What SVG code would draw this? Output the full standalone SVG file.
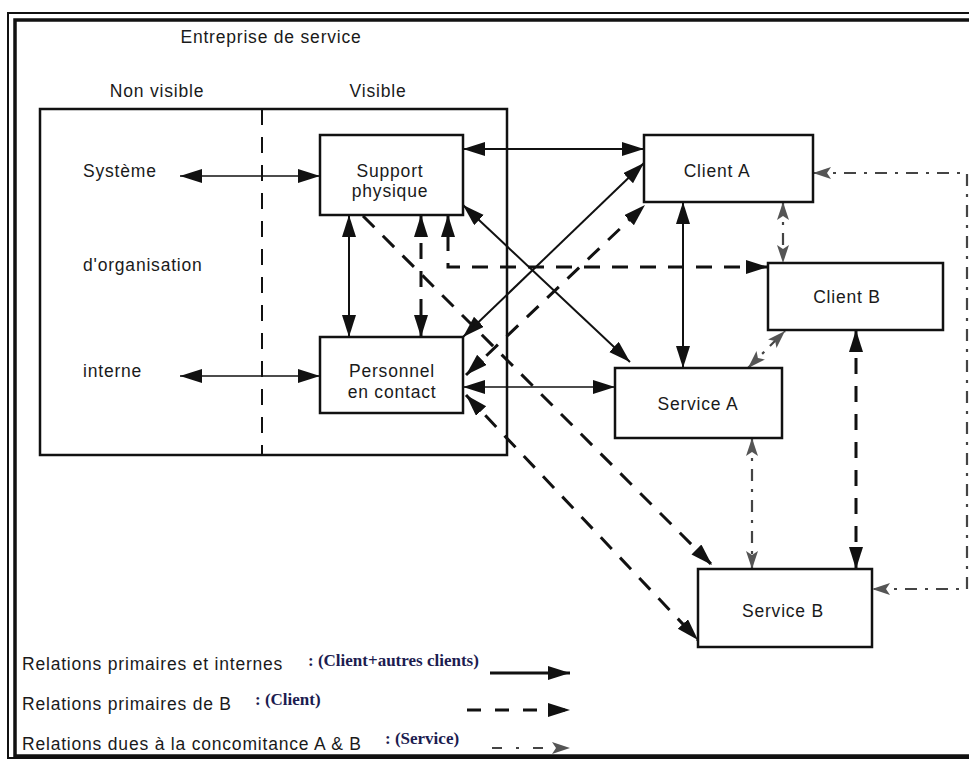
<svg xmlns="http://www.w3.org/2000/svg" width="969" height="760" viewBox="0 0 969 760">
<style>
text{font-family:"Liberation Sans",Arial,sans-serif;font-size:17.5px;letter-spacing:0.8px;fill:#1a1a1a}
.c{text-anchor:middle}
.ser{font-family:"Liberation Serif","Times New Roman",serif;font-weight:bold;font-size:17px;letter-spacing:0;fill:#1c1c50}
.box{fill:#fff;stroke:#111;stroke-width:2.5}
.sol{fill:none;stroke:#111;stroke-width:2;marker-start:url(#ah);marker-end:url(#ah)}
.thin{stroke-width:1.5}
.dsh{fill:none;stroke:#111;stroke-width:3;stroke-dasharray:16 12;marker-start:url(#ah);marker-end:url(#ah)}
.dd{fill:none;stroke:#444;stroke-width:2.2;stroke-dasharray:12 8 3 8;marker-start:url(#ag);marker-end:url(#ag)}
</style>
<defs>
<marker id="ah" markerUnits="userSpaceOnUse" markerWidth="24" markerHeight="16" refX="22" refY="7" orient="auto-start-reverse"><path d="M0,0 L22,7 L0,14 z" fill="#111"/></marker>
<marker id="ag" markerUnits="userSpaceOnUse" markerWidth="20" markerHeight="14" refX="18" refY="6" orient="auto-start-reverse"><path d="M0,0 L18,6 L0,12 L4,6 z" fill="#555"/></marker>
</defs>

<g id="frame">
<rect x="8" y="13" width="990" height="745" fill="none" stroke="#111" stroke-width="2"/>
<rect x="15" y="20" width="990" height="736" fill="none" stroke="#111" stroke-width="3.5"/>
</g>

<g id="entreprise">
<rect x="40" y="109" width="467" height="346" fill="none" stroke="#111" stroke-width="2.5"/>
<line x1="262" y1="109" x2="262" y2="455" stroke="#111" stroke-width="2" stroke-dasharray="16 12"/>
<text class="c" x="271" y="43">Entreprise de service</text>
<text class="c" x="157" y="97">Non visible</text>
<text class="c" x="378" y="97">Visible</text>
<text x="83" y="177">Système</text>
<text x="83" y="271">d'organisation</text>
<text x="83" y="377">interne</text>
</g>

<g id="connectors">
<line class="sol thin" x1="180" y1="176" x2="320" y2="176"/>
<line class="sol thin" x1="180" y1="376" x2="320" y2="376"/>
<line class="sol" x1="349" y1="215" x2="349" y2="337"/>
<line class="sol" x1="463" y1="149" x2="644" y2="149"/>
<line class="sol thin" x1="463" y1="387" x2="615" y2="387"/>
<line class="sol" x1="463" y1="205" x2="630" y2="362"/>
<line class="sol" x1="463" y1="337" x2="644" y2="163"/>
<line class="sol" x1="683" y1="202" x2="683" y2="368"/>

<path class="dsh" d="M768,267 H448 V215"/>
<line class="dsh" x1="421" y1="215" x2="421" y2="337"/>
<line class="dsh" x1="466" y1="375" x2="645" y2="205"/>
<line class="dsh" x1="363" y1="216" x2="712" y2="565" style="marker-start:none"/>
<line class="dsh" x1="466" y1="395" x2="698" y2="640"/>
<line class="dsh" x1="856" y1="330" x2="856" y2="569"/>

<line class="dd" x1="783" y1="202" x2="783" y2="263"/>
<line class="dd" x1="748" y1="368" x2="785" y2="331"/>
<line class="dd" x1="752" y1="438" x2="752" y2="569"/>
<path class="dd" d="M813,173 H967 V589 H872"/>
</g>

<g id="support-physique">
<rect class="box" x="320" y="135" width="143" height="80"/>
<text class="c" x="390" y="177">Support</text>
<text class="c" x="390" y="197">physique</text>
</g>
<g id="personnel-en-contact">
<rect class="box" x="320" y="337" width="143" height="76"/>
<text class="c" x="392" y="377">Personnel</text>
<text class="c" x="392" y="398">en contact</text>
</g>
<g id="client-a">
<rect class="box" x="644" y="135" width="169" height="67"/>
<text class="c" x="717" y="177">Client A</text>
</g>
<g id="client-b">
<rect class="box" x="768" y="263" width="175" height="67"/>
<text class="c" x="847" y="303">Client B</text>
</g>
<g id="service-a">
<rect class="box" x="615" y="368" width="167" height="70"/>
<text class="c" x="698" y="410">Service A</text>
</g>
<g id="service-b">
<rect class="box" x="698" y="569" width="174" height="78"/>
<text class="c" x="783" y="617">Service B</text>
</g>

<g id="legend">
<text x="22" y="670">Relations primaires et internes</text>
<text class="ser" x="308" y="666">: (Client+autres clients)</text>
<line x1="490" y1="673" x2="570" y2="673" stroke="#111" stroke-width="3" marker-end="url(#ah)"/>
<text x="22" y="710">Relations primaires de B</text>
<text class="ser" x="255" y="705">: (Client)</text>
<line x1="467" y1="710" x2="570" y2="710" stroke="#111" stroke-width="3" stroke-dasharray="14 14" marker-end="url(#ah)"/>
<text x="22" y="750">Relations dues à la concomitance A &amp; B</text>
<text class="ser" x="385" y="744">: (Service)</text>
<line x1="492" y1="748" x2="570" y2="748" stroke="#444" stroke-width="2.2" stroke-dasharray="10 14 3 14" marker-end="url(#ag)"/>
</g>
</svg>
